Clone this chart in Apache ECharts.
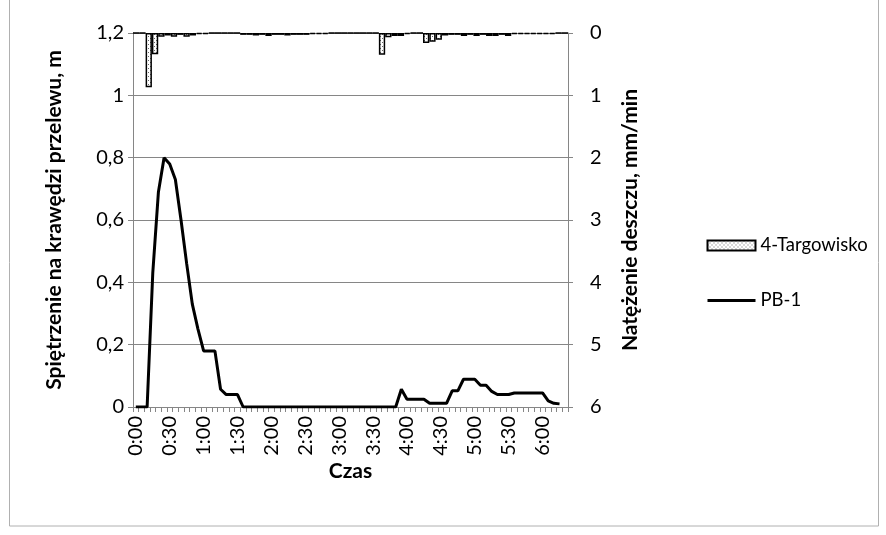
<!DOCTYPE html>
<html>
<head>
<meta charset="utf-8">
<script src="https://cdn.jsdelivr.net/npm/echarts@6/dist/echarts.min.js"></script>
<style>
  html, body { margin: 0; padding: 0; background: #fff; }
  #main { width: 886px; height: 535px; }
</style>
</head>
<body>
<div id="main"></div>
<script>
// spiętrzenie PB-1 [m], co 5 min od 0:00
var pbValues = [0, 0, 0, 0.43, 0.69, 0.80, 0.78, 0.73, 0.60, 0.46,
  0.33, 0.25, 0.18, 0.18, 0.18, 0.057, 0.04, 0.04, 0.04, 0,
  0, 0, 0, 0, 0, 0, 0, 0, 0, 0,
  0, 0, 0, 0, 0, 0, 0, 0, 0, 0,
  0, 0, 0, 0, 0, 0, 0, 0.057, 0.025, 0.025,
  0.025, 0.025, 0.012, 0.012, 0.012, 0.012, 0.052, 0.052, 0.089, 0.089,
  0.089, 0.07, 0.07, 0.05, 0.04, 0.04, 0.04, 0.045, 0.045, 0.045,
  0.045, 0.045, 0.045, 0.02, 0.012, 0.01, null];

// natężenie deszczu 4-Targowisko [mm/min]
var rainValues = [0, 0, 0.87, 0.34, 0.06, 0.04, 0.06, 0.03, 0.06, 0.04,
  0.02, 0.02, 0, 0, 0, 0, 0, 0.03, 0.03, 0.04,
  0.03, 0.05, 0.03, 0.03, 0.04, 0.03, 0.03, 0.03, 0.02, 0.02,
  0.02, 0, 0, 0, 0, 0, 0, 0, 0, 0.35,
  0.07, 0.05, 0.05, 0.02, 0, 0, 0.16, 0.14, 0.11, 0.04,
  0.03, 0.03, 0.05, 0.03, 0.05, 0.03, 0.05, 0.05, 0.03, 0.05,
  0.02, 0.02, 0.02, 0.02, 0.02, 0.02, 0.02, 0, 0];

var leftTicks = { min: 0, max: 1.2, step: 0.2 };
var rightTicks = { min: 0, max: 6, step: 1 };

// etykiety czasu co 5 min
var times = [];
for (var m = 0; m < 77 * 5; m += 5) {
  times.push(Math.floor(m / 60) + ':' + ('0' + (m % 60)).slice(-2));
}
var rainSteps = rainValues.map(function (v, i) { return String(i); });

// kropkowane wypełnienie słupków
var pat = document.createElement('canvas');
pat.width = 4;
pat.height = 4;
var pctx = pat.getContext('2d');
pctx.fillStyle = '#fff';
pctx.fillRect(0, 0, 4, 4);
pctx.fillStyle = '#666';
pctx.fillRect(0, 0, 1, 1);
pctx.fillRect(2, 2, 1, 1);

var FONT = 'Lato';
var grey = '#868686';
var nameStyle = { fontFamily: FONT, fontSize: 21, fontWeight: 'bold', color: '#000' };

var chart = echarts.init(document.getElementById('main'), null, { renderer: 'canvas' });

var option = {
  animation: false,
  backgroundColor: '#fff',
  textStyle: { fontFamily: FONT, color: '#000' },
  grid: { left: 133, right: 318, top: 33, bottom: 128 },
  legend: {
    orient: 'vertical',
    left: 706,
    top: 236,
    padding: 0,
    itemWidth: 48,
    itemHeight: 10,
    itemGap: 36,
    textStyle: { fontFamily: FONT, fontSize: 18.5, color: '#000' },
    data: [
      { name: '4-Targowisko', icon: 'rect' },
      { name: 'PB-1', itemStyle: { opacity: 0 }, lineStyle: { color: '#000', width: 3 } }
    ]
  },
  xAxis: [{
    type: 'category',
    data: times,
    boundaryGap: true,
    name: 'Czas',
    nameLocation: 'middle',
    nameGap: 54,
    nameMoveOverlap: false,
    nameTextStyle: nameStyle,
    axisLine: { lineStyle: { color: grey } },
    axisTick: { show: true, interval: 0, length: 5, lineStyle: { color: grey } },
    axisLabel: { interval: 5, rotate: 90, margin: 9, fontFamily: FONT, fontSize: 20, color: '#000' },
    splitLine: { show: false }
  }, {
    type: 'category',
    data: rainSteps,
    position: 'top',
    show: false
  }],
  yAxis: [{
    type: 'value',
    min: leftTicks.min,
    max: leftTicks.max,
    interval: leftTicks.step,
    name: 'Spiętrzenie na krawędzi przelewu, m',
    nameLocation: 'middle',
    nameGap: 68,
    nameTextStyle: nameStyle,
    axisLine: { show: true, lineStyle: { color: grey } },
    axisTick: { show: true, length: 5, lineStyle: { color: grey } },
    axisLabel: {
      margin: 9, fontFamily: FONT, fontSize: 20, color: '#000',
      formatter: function (v) { return String(+v.toFixed(1)).replace('.', ','); }
    },
    splitLine: { show: true, lineStyle: { color: grey, width: 1 } }
  }, {
    type: 'value',
    inverse: true,
    min: rightTicks.min,
    max: rightTicks.max,
    interval: rightTicks.step,
    position: 'right',
    name: 'Natężenie deszczu, mm/min',
    nameLocation: 'middle',
    nameGap: 52,
    nameRotate: 90,
    nameTextStyle: nameStyle,
    axisLine: { show: true, lineStyle: { color: grey } },
    axisTick: { show: true, length: 5, lineStyle: { color: grey } },
    axisLabel: { margin: 22, fontFamily: FONT, fontSize: 20, color: '#000' },
    splitLine: { show: false }
  }],
  series: [{
    name: '4-Targowisko',
    type: 'bar',
    xAxisIndex: 1,
    yAxisIndex: 1,
    data: rainValues,
    barCategoryGap: '0%',
    itemStyle: {
      color: { image: pat, repeat: 'repeat' },
      borderColor: '#000',
      borderWidth: 1.5
    }
  }, {
    name: 'PB-1',
    type: 'line',
    xAxisIndex: 0,
    yAxisIndex: 0,
    data: pbValues,
    symbol: 'none',
    lineStyle: { color: '#000', width: 3 },
    itemStyle: { color: '#000' },
    z: 3
  }],
  graphic: [{
    type: 'rect',
    shape: { x: 9.5, y: -2, width: 869, height: 528 },
    style: { fill: 'none', stroke: '#b0b0b0', lineWidth: 1 },
    silent: true
  }]
};

chart.setOption(option);
</script>
</body>
</html>
